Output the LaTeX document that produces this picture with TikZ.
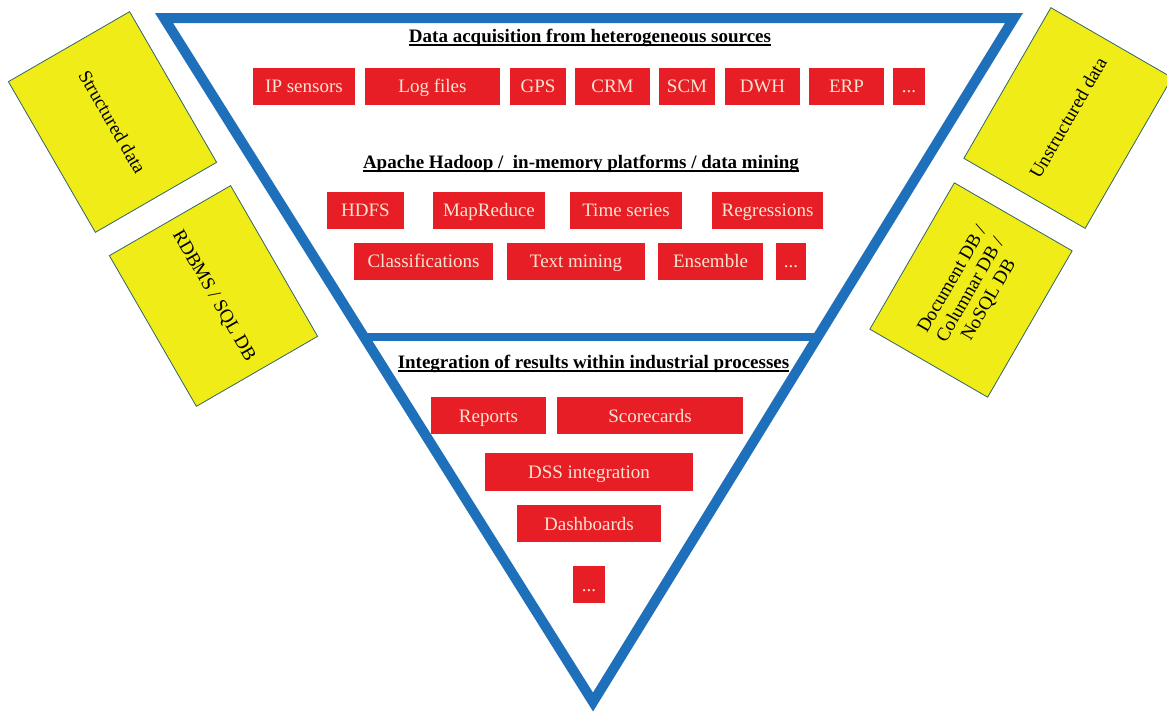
\documentclass[tikz,border=0pt]{standalone}
\usepackage{fontspec}
\setmainfont{Liberation Serif}
\usepackage{xcolor}
\usepackage{tikz}
\usetikzlibrary{calc}

\definecolor{frameblue}{RGB}{30,112,187}
\definecolor{boxred}{RGB}{232,30,38}
\definecolor{boxtext}{RGB}{247,228,208}
\definecolor{dbyellow}{RGB}{240,236,24}
\definecolor{dbedge}{RGB}{50,100,105}

\newcommand{\labelfont}{\fontsize{19}{21}\selectfont}

\tikzset{
  frame/.style={draw=frameblue, line width=10pt, line join=miter},
  redbox/.style={fill=boxred, text=boxtext, inner sep=0pt, minimum height=37pt, text height=14pt, text depth=1pt},
  dbbox/.style={fill=dbyellow, draw=dbedge, line width=0.8pt, inner sep=2pt, minimum width=174pt, minimum height=140pt, align=center},
  heading/.style={font=\labelfont\bfseries, inner sep=0pt, anchor=base},
  headline/.style={line width=1.3pt},
}

\begin{document}
\begin{tikzpicture}[x=1pt, y=-1pt, font=\labelfont]
    \useasboundingbox (0,0) rectangle (1167,713);

    % Storage boxes
    \node[dbbox, rotate=-60] (structured) at (112.5,122) {Structured data};
    \node[dbbox, rotate=-60] (rdbms) at (213.5,296) {RDBMS / SQL DB};
    \node[dbbox, rotate=60] (unstructured) at (1068,118) {Unstructured data};
    \node[dbbox, rotate=60, minimum width=169pt, minimum height=136pt] (docdb) at (971,290)
        {Document DB /\\ Columnar DB /\\ NoSQL DB};

    % Funnel
    \coordinate (tl) at (164,18);
    \coordinate (tr) at (1014,18);
    \coordinate (apex) at (593,702);
    \draw[frame, fill=white] (tl) -- (tr) -- (apex) -- cycle;
    \draw[frame, line width=8pt] ($(tl)!0.4664!(apex)$) -- ($(tr)!0.4664!(apex)$);

    % Acquisition
    \node[heading] (acq) at (590,42) {Data acquisition from heterogeneous sources};
    \draw[headline] ($(acq.base west)+(0,3)$) -- ($(acq.base east)+(0,3)$);
    \node[redbox, minimum width=102pt] (ipsensors) at (304,86) {IP sensors};
    \node[redbox, minimum width=135pt] (logfiles) at (432.5,86) {Log files};
    \node[redbox, minimum width=56pt] (gps) at (538,86) {GPS};
    \node[redbox, minimum width=75pt] (crm) at (612.5,86) {CRM};
    \node[redbox, minimum width=56pt] (scm) at (687,86) {SCM};
    \node[redbox, minimum width=75pt] (dwh) at (762.5,86) {DWH};
    \node[redbox, minimum width=75pt] (erp) at (846.5,86) {ERP};
    \node[redbox, minimum width=32pt] (moresrc) at (909,86) {...};

    % Processing
    \node[heading] (proc) at (581,168) {Apache Hadoop /\ \ in-memory platforms / data mining};
    \draw[headline] ($(proc.base west)+(0,3)$) -- ($(proc.base east)+(0,3)$);
    \node[redbox, minimum width=77pt] (hdfs) at (365.5,210) {HDFS};
    \node[redbox, minimum width=112pt] (mapreduce) at (489,210) {MapReduce};
    \node[redbox, minimum width=112pt] (timeseries) at (626,210) {Time series};
    \node[redbox, minimum width=111pt] (regressions) at (767.5,210) {Regressions};
    \node[redbox, minimum width=139pt] (classif) at (423.5,261) {Classifications};
    \node[redbox, minimum width=138pt] (textmining) at (576,261) {Text mining};
    \node[redbox, minimum width=105pt] (ensemble) at (710.5,261) {Ensemble};
    \node[redbox, minimum width=30pt] (moreproc) at (791,261) {...};

    % Integration
    \node[heading] (integ) at (593.5,368) {Integration of results within industrial processes};
    \draw[headline] ($(integ.base west)+(0,3)$) -- ($(integ.base east)+(0,3)$);
    \node[redbox, minimum width=115pt] (reports) at (488.5,415.5) {Reports};
    \node[redbox, minimum width=186pt] (scorecards) at (650,415.5) {Scorecards};
    \node[redbox, minimum width=208pt, minimum height=38pt] (dss) at (589,472) {DSS integration};
    \node[redbox, minimum width=144pt] (dashboards) at (589,523.5) {Dashboards};
    \node[redbox, minimum width=32pt] (moreinteg) at (589,584.5) {...};
\end{tikzpicture}
\end{document}
